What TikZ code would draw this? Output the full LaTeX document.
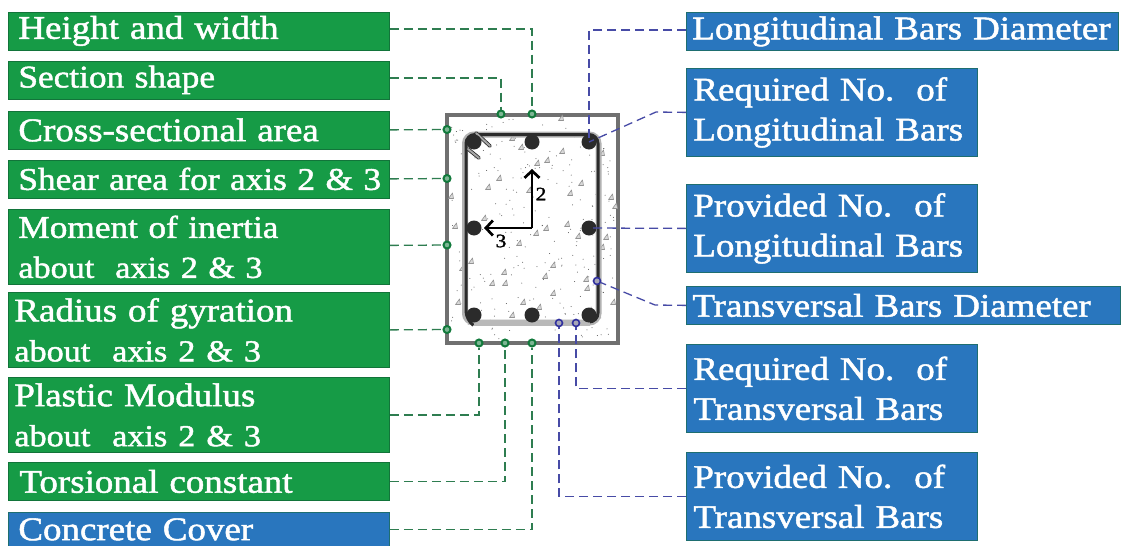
\documentclass[tikz,border=0pt]{standalone}
\usepackage{fontspec}
\setmainfont[FakeStretch=1.12,FakeBold=1.5]{Liberation Serif}
\definecolor{gfill}{HTML}{169B46}
\definecolor{gedge}{HTML}{12743A}
\definecolor{bfill}{HTML}{2976BE}
\definecolor{bedge}{HTML}{1E6E70}
\definecolor{gline}{HTML}{2E7D50}
\definecolor{bline}{HTML}{474BA6}
\definecolor{dotg}{HTML}{127A3C}
\definecolor{dotb}{HTML}{2F2F9E}
\definecolor{steel}{HTML}{707070}
\definecolor{bar}{HTML}{2B2B2B}
\usetikzlibrary{arrows.meta}
\newcommand{\narrowline}[1]{{\fontsize{30.5}{40}\selectfont #1}}
\tikzset{
  lab/.style={draw, line width=0.8pt, rectangle, anchor=north west, align=left, text=white,
    inner ysep=0pt, font=\fontsize{33}{40}\selectfont},
  glab/.style={lab, fill=gfill, draw=gedge},
  blab/.style={lab, fill=bfill, draw=bedge},
  gconn/.style={draw=gline, line width=1.3pt, dash pattern=on 9pt off 5pt},
  bconn/.style={draw=bline, line width=1.3pt, dash pattern=on 9pt off 5pt},
  gdot/.style={circle, draw=dotg, fill=dotg!55!white, line width=2pt, inner sep=0pt, minimum size=7pt},
  bdot/.style={circle, draw=dotb, fill=dotb!25!gray!60!white, line width=1.6pt, inner sep=0pt, minimum size=7pt},
  rebar/.style={circle, fill=bar, inner sep=0pt, minimum size=15pt},
  speck/.style={draw=gray!85, fill=gray!30, line width=0.6pt, line join=round},
  axisline/.style={line width=2.7pt, black, line join=round, -{Straight Barb[length=7pt,width=15pt]}},
  axlab/.style={font=\fontsize{19}{19}\selectfont, inner sep=0pt},
}
\begin{document}
\begin{tikzpicture}[x=1pt,y=-1pt]
\useasboundingbox (0,0) rectangle (1122,546);
\clip (0,0) rectangle (1122,546);
\fill[white] (0,0) rectangle (1122,546);

% section: concrete
\draw[steel, line width=3.5pt, fill=white] (447,115) rectangle (618,343);
\pgfmathsetseed{4711}
\foreach \i in {1,...,260}{
  \pgfmathsetmacro{\px}{451+rnd*163}
  \pgfmathsetmacro{\py}{119+rnd*220}
  \fill[gray!65!black] (\px,\py) circle (0.5pt);
}
\foreach \sx/\sy in {537/163,547/160,562/151,521/147,512/138,499/178,488/187,529/190,581/183,570/193,611/197,451/196,484/218,455/226,567/224,546/228,536/233,578/236,519/243,606/237,471/261,553/265,462/268,504/272,545/276,586/279,492/283,505/283,587/288,553/293,458/302,613/302,523/302,539/307,512/315,561/118,602/153,615/206,602/247}{
  \draw[speck] (\sx-2.5,\sy+2.5) -- (\sx+2.5,\sy+2.5) -- (\sx+1.5,\sy-3) -- cycle;
}
% stirrup
\draw[gray!60, line width=6pt, rounded corners=9pt] (465,134.5) rectangle (598.5,322.5);
\draw[bar, line width=3pt, rounded corners=9pt] (590,322) -- (598,322) -- (598,134.5) -- (466,134.5) -- (466,320) -- (473,325);
\draw[gray!55, line width=6pt] (474,323) -- (590,323);
\draw[bar, line width=3.6pt, line cap=round] (476,133) -- (490,146);
\draw[gray!70, line width=2pt, line cap=round] (476,133) -- (490,146);
\draw[bar, line width=3.6pt, line cap=round] (468,149) -- (479,158);
\draw[gray!70, line width=2pt, line cap=round] (468,149) -- (479,158);
% bars
\node[rebar] (r1) at (474,142) {};
\node[rebar] (r2) at (532,142) {};
\node[rebar] (r3) at (589,142) {};
\node[rebar] (r4) at (474,228) {};
\node[rebar] (r5) at (589,228) {};
\node[rebar] (r6) at (474,315) {};
\node[rebar] (r7) at (532,315) {};
\node[rebar] (r8) at (589,315) {};
% axes
\coordinate (orig) at (532,228);
\coordinate (axtwo) at (532,169);
\coordinate (axthree) at (484,228);
\draw[axisline] (orig) -- (axtwo);
\draw[axisline] (orig) -- (axthree);
\node[axlab] (ltwo) at (541,194) {2};
\node[axlab] (lthree) at (501,241) {3};

% left boxes
\node[glab, minimum width=381pt, minimum height=38pt, inner xsep=10pt, text width=361pt] (hw) at (8,11.5) {Height and width};
\node[glab, minimum width=381pt, minimum height=38pt, inner xsep=10pt, text width=361pt, font=\fontsize{31.5}{40}\selectfont] (ss) at (8,60.5) {Section shape};
\node[glab, minimum width=381pt, minimum height=38pt, inner xsep=10pt, text width=361pt] (ca) at (8,110.5) {Cross-sectional area};
\node[glab, minimum width=381pt, minimum height=38pt, inner xsep=10pt, text width=361pt, font=\fontsize{31.5}{40}\selectfont] (sa) at (8,159.5) {\mbox{Shear area for axis 2 \& 3}};
\node[glab, minimum width=381pt, minimum height=75pt, inner xsep=10pt, text width=361pt, font=\fontsize{31.5}{40}\selectfont] (mi) at (8,209) {Moment of inertia\\\narrowline{about\ \ axis 2 \& 3}};
\node[glab, minimum width=381pt, minimum height=75pt, inner xsep=6pt, text width=369pt] (rg) at (8,292) {Radius of gyration\\\narrowline{about\ \ axis 2 \& 3}};
\node[glab, minimum width=381pt, minimum height=75pt, inner xsep=6pt, text width=369pt] (pm) at (8,377) {Plastic Modulus\\\narrowline{about\ \ axis 2 \& 3}};
\node[glab, minimum width=381pt, minimum height=38pt, inner xsep=11pt, text width=359pt] (tc) at (8,462) {Torsional constant};
\node[blab, minimum width=381pt, minimum height=34pt, inner xsep=10pt, text width=361pt] (cc) at (8,512) {Concrete Cover};

% right boxes
\node[blab, minimum width=432pt, minimum height=38pt, inner xsep=6pt, text width=420pt] (ld) at (686,12) {Longitudinal Bars Diameter};
\node[blab, minimum width=291pt, minimum height=88pt, inner xsep=7pt, text width=277pt] (rl) at (686,68) {Required No.\ \ of\\Longitudinal Bars};
\node[blab, minimum width=291pt, minimum height=88pt, inner xsep=7pt, text width=277pt] (pl) at (686,184) {Provided No.\ \ of\\Longitudinal Bars};
\node[blab, minimum width=434pt, minimum height=38pt, inner xsep=6pt, text width=422pt] (td) at (686,286) {Transversal Bars Diameter};
\node[blab, minimum width=291pt, minimum height=88pt, inner xsep=7pt, text width=277pt] (rt) at (686,344) {Required No.\ \ of\\Transversal Bars};
\node[blab, minimum width=291pt, minimum height=88pt, inner xsep=7pt, text width=277pt] (pt) at (686,452) {Provided No.\ \ of\\Transversal Bars};

% attachment dots
\node[gdot] (d1) at (532,114) {};
\node[gdot] (d2) at (501,114) {};
\node[gdot] (d3) at (447,129.5) {};
\node[gdot] (d4) at (447,178.5) {};
\node[gdot] (d5) at (447,245) {};
\node[gdot] (d6) at (447,329.5) {};
\node[gdot] (d7) at (479,343) {};
\node[gdot] (d8) at (505,343) {};
\node[gdot] (d9) at (532,343) {};
\node[bdot] (b1) at (597,281) {};
\node[bdot] (b2) at (576,323) {};
\node[bdot] (b3) at (559,323) {};
\coordinate (kinka) at (656,112);
\coordinate (kinkb) at (655,305);

% green connectors
\draw[gconn] ([yshift=2pt]hw.east) -| (d1);
\draw[gconn] ([yshift=2pt]ss.east) -| (d2);
\draw[gconn] (ca.east) -- (d3);
\draw[gconn] (sa.east) -- (d4);
\draw[gconn] ([yshift=1.5pt]mi.east) -- (d5);
\draw[gconn] (rg.east) -- (d6);
\draw[gconn] (pm.east) -| (d7);
\draw[gconn] (tc.east) -| (d8);
\draw[gconn] (cc.east) -| (d9);
% blue connectors
\draw[bconn] ([yshift=1.5pt]ld.west) -| (r3.center);
\draw[bconn] (rl.west) -- (kinka) -- (r3.center);
\draw[bconn] (pl.west) -- (r5.center);
\draw[bconn] (td.west) -- (kinkb) -- (b1);
\draw[bconn] (rt.west) -| (b2);
\draw[bconn] (pt.west) -| (b3);
\end{tikzpicture}
\end{document}
